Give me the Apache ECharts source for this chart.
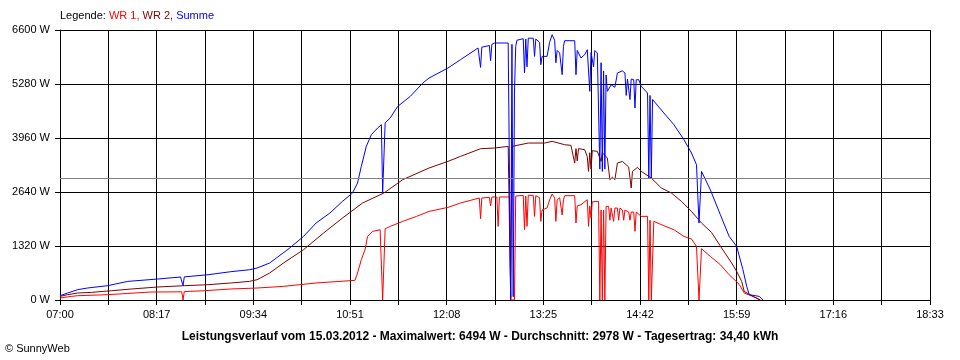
<!DOCTYPE html>
<html>
<head>
<meta charset="utf-8">
<script src="https://cdn.jsdelivr.net/npm/echarts@6/dist/echarts.min.js"></script>
<style>
html,body{margin:0;padding:0;background:#fff;}
#chart{width:960px;height:360px;}
</style>
</head>
<body>
<div id="chart"></div>
<script>
// ---- axis definitions ----
const startTime = '07:00';
const endTime = '18:33';
const halfStepMinutes = 38.5;
const yMax = 6600;
const yStep = 1320;

// ---- summary values ----
const reportDate = '15.03.2012';
const maxWatt = 6494;
const avgWatt = 2978;
const dailyYield = '34,40';

// ---- WR 1 ----
const wr1Times = ['07:00','07:09','07:14','07:38','07:54','08:12','08:37','08:38','08:39','08:55','09:16','09:37','09:58','10:24','10:51','10:55','10:57','11:00','11:03','11:05','11:09','11:15','11:16','11:17','11:18','11:19','11:23','11:33','11:44','11:54','12:09','12:19','12:34','12:35','12:36','12:42','12:43','12:44','12:48','12:49','12:50','12:58','12:59','13:02','13:03','13:09','13:10','13:11','13:12','13:13','13:17','13:18','13:19','13:22','13:23','13:24','13:28','13:30','13:32','13:34','13:35','13:36','13:38','13:40','13:41','13:42','13:50','13:51','13:52','13:55','14:00','14:01','14:02','14:03','14:04','14:09','14:10','14:11','14:12','14:13','14:14','14:15','14:17','14:18','14:19','14:21','14:22','14:24','14:25','14:26','14:28','14:29','14:30','14:33','14:34','14:35','14:37','14:38','14:39','14:43','14:48','14:49','14:50','14:51','14:52','14:53','15:01','15:09','15:17','15:23','15:27','15:28','15:29','15:30','15:31','15:38','15:46','15:53','16:00','16:02','16:05','16:12','16:16','16:17'];
const wr1Watts = [49,88,105,130,161,195,200,0,205,227,269,293,333,416,472,481,660,985,1230,1555,1677,1718,1720,0,0,1740,1799,1922,2044,2166,2264,2371,2493,1987,2493,2510,2300,2518,2518,1799,2518,2518,0,0,2540,2557,1718,2540,1800,2560,2557,2044,2550,2500,1922,2200,2250,2450,2591,2500,1922,2450,2500,2077,2450,2550,2550,1882,2300,2329,2452,1800,2300,2000,2400,2411,0,2200,0,2200,0,2289,2289,1950,2248,1922,2248,2248,1950,2248,2200,1950,2200,2150,1950,2150,2150,1677,2150,2044,2044,0,1950,0,0,1922,1816,1718,1555,1491,1310,1300,0,0,1254,1066,863,618,416,333,171,88,24,0];

// ---- WR 2 ----
const wr2Times = ['07:00','07:06','07:14','07:25','07:41','07:57','08:18','08:39','08:58','09:16','09:31','09:37','09:47','09:58','10:14','10:30','10:45','11:01','11:18','11:33','11:54','12:09','12:19','12:35','12:46','12:57','12:58','12:59','13:00','13:13','13:26','13:32','13:42','13:47','13:50','13:51','13:52','13:53','13:58','14:00','14:01','14:02','14:03','14:04','14:08','14:11','14:12','14:16','14:18','14:20','14:22','14:24','14:28','14:33','14:35','14:36','14:40','14:43','14:51','14:59','15:07','15:15','15:23','15:31','15:39','15:47','15:55','15:59','16:03','16:05','16:12','16:18'];
const wr2Watts = [88,130,171,186,227,269,318,350,374,416,455,496,660,904,1230,1638,2004,2371,2615,2941,3227,3388,3510,3698,3715,3755,3755,0,3755,3837,3837,3878,3796,3780,3348,3700,3400,3700,3674,3500,3144,3600,3200,3650,3633,3388,3600,3470,2941,3000,2941,3348,3388,3250,2738,3144,3242,3144,2982,2738,2615,2411,2166,1882,1650,1271,904,700,455,211,88,0];

// ---- Summe ----
const sumTimes = ['07:00','07:06','07:14','07:22','07:38','07:54','08:18','08:36','08:37','08:38','08:39','08:58','09:16','09:31','09:37','09:47','10:03','10:14','10:24','10:35','10:45','10:53','10:57','11:00','11:04','11:08','11:13','11:16','11:17','11:18','11:19','11:23','11:29','11:39','11:49','11:54','12:09','12:19','12:33','12:34','12:35','12:36','12:42','12:43','12:44','12:46','12:57','12:58','12:59','13:00','13:01','13:02','13:03','13:04','13:09','13:10','13:11','13:12','13:13','13:17','13:18','13:19','13:22','13:23','13:24','13:28','13:30','13:32','13:34','13:35','13:36','13:38','13:40','13:41','13:42','13:50','13:51','13:52','13:55','13:58','14:00','14:02','14:03','14:05','14:06','14:08','14:09','14:10','14:11','14:12','14:13','14:14','14:15','14:16','14:19','14:22','14:24','14:28','14:30','14:31','14:32','14:34','14:35','14:37','14:38','14:39','14:41','14:43','14:48','14:49','14:50','14:51','14:52','14:53','15:01','15:09','15:17','15:23','15:27','15:28','15:29','15:30','15:31','15:38','15:46','15:53','15:59','16:04','16:07','16:09','16:17','16:20'];
const sumWatts = [105,170,252,293,350,455,513,562,562,350,565,618,692,740,782,904,1271,1555,1882,2126,2411,2615,2860,3266,3755,4041,4204,4285,2615,2640,4330,4449,4733,4977,5304,5426,5671,5874,6160,6160,5686,6180,6220,5850,6250,6282,6282,6280,50,6250,80,5060,6200,6350,6387,5549,6380,5700,6400,6400,5955,6380,6300,5752,5955,5955,6300,6485,6350,5800,6100,6038,5507,6200,6338,6338,5507,6100,5915,6000,6118,5100,6050,5700,6100,6038,6050,3200,5800,3144,5600,3200,5500,5100,5260,5200,5549,5600,5549,5000,5400,4900,5400,5385,4693,5385,5385,5222,5060,2982,5000,2982,4900,4855,4571,4285,3918,3593,3307,3266,1882,1900,3144,2696,2085,1555,1310,741,333,130,88,0];

// ---- helpers ----
function toMin(t){ const p=t.split(':'); return (+p[0])*60 + (+p[1]); }
const originMin = toMin(startTime);
const spanMin = toMin(endTime) - originMin;
function pad(n){ return (n<10?'0':'')+n; }
function pairs(ts, vs){ return ts.map((t,i)=>[toMin(t)-originMin, vs[i]]); }

const chart = echarts.init(document.getElementById('chart'), null, {renderer:'canvas'});
const FONT = '"Liberation Sans", Arial, sans-serif';

const lineSeries = (name, color, ts, vs, z) => ({
  name, type:'line', data: pairs(ts, vs), showSymbol:false, symbol:'none',
  lineStyle:{color, width:1}, itemStyle:{color}, z, animation:false, silent:true
});

chart.setOption({
  backgroundColor:'#ffffff',
  animation:false,
  grid:{left:60, top:30, width:870, height:270, containLabel:false, show:false},
  xAxis:{
    type:'value', min:0, max:spanMin, interval:halfStepMinutes,
    axisLine:{show:true, lineStyle:{color:'#000', width:1}},
    axisTick:{show:true, length:5, lineStyle:{color:'#000', width:1}},
    splitLine:{show:true, lineStyle:{color:'#000', width:1}},
    axisLabel:{
      color:'#000', fontFamily:FONT, fontSize:11, margin:9,
      showMinLabel:true, showMaxLabel:true,
      formatter:function(v){
        const k = Math.round(v/halfStepMinutes);
        if (k % 2) return '';
        const m = originMin + Math.round(v);
        return pad(Math.floor(m/60)) + ':' + pad(m%60);
      }
    }
  },
  yAxis:{
    type:'value', min:0, max:yMax, interval:yStep,
    axisLine:{show:true, lineStyle:{color:'#000', width:1}},
    axisTick:{show:true, length:5, lineStyle:{color:'#000', width:1}},
    splitLine:{show:true, lineStyle:{color:'#000', width:1}},
    axisLabel:{color:'#000', fontFamily:FONT, fontSize:11, margin:10,
      formatter:function(v){ return String(Math.round(v)) + ' W'; }}
  },
  series:[
    {
      name:'avg', type:'line', data:[], z:1, silent:true,
      markLine:{silent:true, symbol:['none','none'], label:{show:false},
        lineStyle:{color:'#808080', width:1, type:'solid'}, animation:false,
        data:[{yAxis:avgWatt}]}
    },
    lineSeries('WR 1', '#ff0000', wr1Times, wr1Watts, 2),
    lineSeries('WR 2', '#800000', wr2Times, wr2Watts, 3),
    lineSeries('Summe', '#0000ff', sumTimes, sumWatts, 4)
  ],
  graphic:[
    {
      type:'text', left:60, top:10,
      style:{
        text:'{k|Legende: }{a|WR 1, }{b|WR 2, }{c|Summe}',
        rich:{
          k:{fill:'#000', fontFamily:FONT, fontSize:11},
          a:{fill:'#ff0000', fontFamily:FONT, fontSize:11},
          b:{fill:'#800000', fontFamily:FONT, fontSize:11},
          c:{fill:'#0000ff', fontFamily:FONT, fontSize:11}
        }
      }
    },
    {
      type:'text', x:480, y:337,
      style:{
        text:'Leistungsverlauf vom ' + reportDate + ' - Maximalwert: ' + maxWatt + ' W - Durchschnitt: ' + avgWatt + ' W - Tagesertrag: ' + dailyYield + ' kWh',
        fill:'#000', fontFamily:FONT, fontSize:12, fontWeight:'bold',
        align:'center', verticalAlign:'middle'
      }
    },
    {
      type:'text', x:5, y:349,
      style:{text:'\u00A9 SunnyWeb', fill:'#000', fontFamily:FONT, fontSize:11, verticalAlign:'middle'}
    }
  ]
});
</script>
</body>
</html>
